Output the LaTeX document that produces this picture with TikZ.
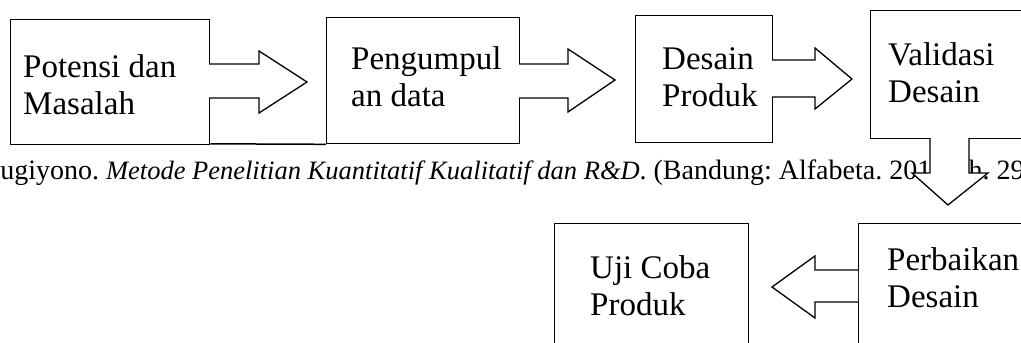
\documentclass[tikz,border=0pt]{standalone}
\usepackage{fontspec}
\setmainfont{Liberation Serif}
\usetikzlibrary{calc}
\begin{document}
\frenchspacing
\begin{tikzpicture}[x=1pt,y=-1pt,
  stagebox/.style={draw,line width=1.3pt,fill=white,inner sep=0pt,anchor=north west},
  blockarrow/.style={draw,line width=1.3pt,fill=white,line join=miter},
  stagetext/.style={anchor=base west,inner sep=0pt,align=left,
    font=\fontsize{33}{37}\selectfont},
  sourcetext/.style={anchor=base west,inner sep=0pt,
    font=\fontsize{28}{30}\selectfont}]
\useasboundingbox (0,0) rectangle (1021,343);
\clip (0,0) rectangle (1021,343);

% source line under the first row
\node[sourcetext] (src) at (-15.5,179)
  {Sugiyono. {\fontsize{26.5}{30}\selectfont\itshape Metode Penelitian Kuantitatif Kualitatif dan R\&D}. (Bandung: Alfabeta. 2010), h. 297};

% stage boxes
\node[stagebox,minimum width=199pt,minimum height=125pt] (b1) at (10,19) {};
\node[stagebox,minimum width=193pt,minimum height=126pt] (b2) at (326,17) {};
\node[stagebox,minimum width=137pt,minimum height=127pt] (b3) at (635,15) {};
\node[stagebox,minimum width=170pt,minimum height=128pt] (b4) at (870,10) {};
\node[stagebox,minimum width=170pt,minimum height=130pt] (b5) at (858,223) {};
\node[stagebox,minimum width=194pt,minimum height=130pt] (b6) at (554,223) {};

% baseline line joining the first two boxes
\draw[line width=1.5pt] ($(b1.south east)+(0,-1.5)$) -- (b2.south west);

% stage labels (placed by the baseline of their last line)
\node[stagetext] (t1) at (23,114) {Potensi dan\\Masalah};
\node[stagetext] (t2) at (351,106) {Pengumpul\\an data};
\node[stagetext] (t3) at (662,106) {Desain\\Produk};
\node[stagetext] (t4) at (888,102) {Validasi\\Desain};
\node[stagetext] (t5) at (887,307) {Perbaikan\\Desain};
\node[stagetext] (t6) at (590,315) {Uji Coba\\Produk};

% block arrows between the stages
\draw[blockarrow] (209,64) -- (259,64) -- (259,51) -- (307,82) -- (259,113) -- (259,98) -- (209,98);
\draw[blockarrow] (519,64) -- (568,64) -- (568,49) -- (615,80) -- (568,112) -- (568,98) -- (519,98);
\draw[blockarrow] (772,60) -- (815,60) -- (815,48) -- (852,79) -- (815,109) -- (815,97) -- (772,97);
\draw[blockarrow] (930,138) -- (930,173) -- (912,173) -- (948,205) -- (988,173) -- (969,173) -- (969,138);
\draw[blockarrow] (858,270) -- (815,270) -- (815,256) -- (772,287) -- (815,318) -- (815,302) -- (858,302);
\end{tikzpicture}
\end{document}
